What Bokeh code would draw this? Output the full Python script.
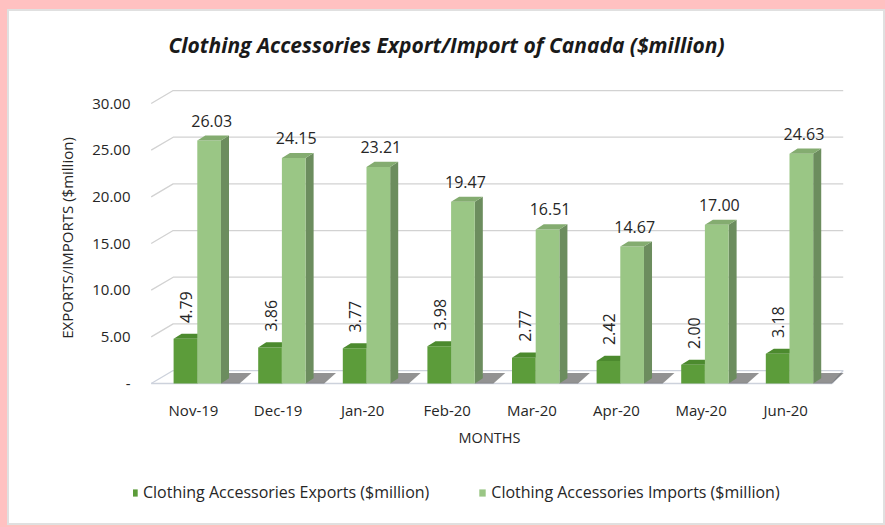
import numpy as np
from bokeh.plotting import figure
from bokeh.layouts import column
from bokeh.models import ColumnDataSource, FixedTicker, Legend, LegendItem, Range1d
from bokeh.embed import file_html
from bokeh.resources import INLINE

# ---------------- data ----------------
months = ["Nov-19", "Dec-19", "Jan-20", "Feb-20", "Mar-20", "Apr-20", "May-20", "Jun-20"]
exports = [4.79, 3.86, 3.77, 3.98, 2.77, 2.42, 2.00, 3.18]
imports = [26.03, 24.15, 23.21, 19.47, 16.51, 14.67, 17.00, 24.63]
y_ticks = [0, 5, 10, 15, 20, 25, 30]
y_tick_labels = ["-", "5.00", "10.00", "15.00", "20.00", "25.00", "30.00"]
title_text = "Clothing Accessories Export/Import of Canada ($million)"
export_name = "Clothing Accessories Exports ($million)"
import_name = "Clothing Accessories Imports ($million)"
x_title = "MONTHS"
y_title = "EXPORTS/IMPORTS ($million)"

# ---------------- style ----------------
FONT = "Open Sans"
PINK = "#ffc1c1"
TXT = "#262626"
EXP_FRONT, EXP_SIDE, EXP_TOP = "#5c9c3a", "#3f7327", "#4c8a2e"
IMP_FRONT, IMP_SIDE, IMP_TOP = "#9ac685", "#6c8d5e", "#84ac70"
GRID = "#d2d2d2"

SHIFT = 0.045            # bars sit slightly right of the category labels
BW = 0.28                # bar width (category units)
BDX, BDY = 0.095, 0.55   # bar depth offsets
WDX, WDY = 0.26, 1.39    # wall depth offsets
FLOOR_X0 = -0.5
FLOOR_X1 = 7.55
BACK_X1 = 7.68
EXP_LABEL_GAP = 1.7      # gap (value units) between export bar and its label

xc = np.arange(len(months), dtype=float)
exp = np.array(exports)
imp = np.array(imports)

W = 874
H0, H1, H2 = 60, 389, 63
BL, BR = 124, 38


def blank(height, top):
    f = figure(width=W, height=height, output_backend="svg", toolbar_location=None,
               x_range=Range1d(0, 1), y_range=Range1d(0, 1),
               min_border_left=BL, min_border_right=BR,
               min_border_top=top, min_border_bottom=0)
    f.axis.visible = False
    f.grid.visible = False
    f.outline_line_color = None
    f.background_fill_color = "white"
    f.border_fill_color = "white"
    return f

# ---------- title header ----------
h = blank(H0, 48)
h.title.text = title_text
h.title.text_font = FONT
h.title.text_font_size = "21px"
h.title.text_font_style = "bold italic"
h.title.text_color = "#1a1a1a"
h.title.align = "left"
h.title.vertical_align = "middle"
h.title.offset = 35
h.title.standoff = 0
h.scatter(x=[-10.0], y=[-10.0], size=1, alpha=0)

# ---------- main chart ----------
p = figure(width=W, height=H1, output_backend="svg", toolbar_location=None,
           x_range=Range1d(-0.709, 7.707), y_range=Range1d(-0.75, 31.93),
           min_border_left=BL, min_border_right=BR, min_border_top=14,
           min_border_bottom=70)
p.background_fill_color = "white"
p.border_fill_color = "white"
p.outline_line_color = None
p.xgrid.visible = False
p.ygrid.visible = False

# 3D gridlines / walls
gx, gy = [], []
for v in y_ticks:
    if v == 0:
        continue
    gx.append([FLOOR_X0, FLOOR_X0 + WDX, BACK_X1])
    gy.append([v, v + WDY, v + WDY])
p.multi_line(gx, gy, line_color=GRID, line_width=1.3)
# floor
p.multi_line([[FLOOR_X0, FLOOR_X1], [FLOOR_X0 + WDX, BACK_X1],
              [FLOOR_X0, FLOOR_X0 + WDX], [FLOOR_X1, BACK_X1]],
             [[0, 0], [WDY, WDY], [0, WDY], [0, WDY]],
             line_color="#cdd2dc", line_width=1.3)

# bar shadows on floor
sh_x, sh_y = [], []
for c in xc + SHIFT:
    x1 = c + BW
    sh_x.append([x1, x1 + BDX, x1 + 0.36, x1 + 0.22])
    sh_y.append([0, WDY * 0.8, WDY * 0.8, 0])
p.patches(sh_x, sh_y, fill_color="#4a4a4a", fill_alpha=0.6, line_color=None)


def bar3d(x0, vals, front, side, top):
    x1 = x0 + BW
    src = ColumnDataSource(dict(x=x0 + BW / 2, top=vals))
    sxs = [[a, a, a + BDX, a + BDX] for a in x1]
    sys_ = [[0, v, v + BDY, BDY] for v in vals]
    p.patches(sxs, sys_, fill_color=side, line_color=None)
    p.vbar(x="x", top="top", bottom=0, width=BW, source=src,
           fill_color=front, line_color=None)
    txs = [[a, b, b + BDX, a + BDX] for a, b in zip(x0, x1)]
    tys = [[v, v, v + BDY, v + BDY] for v in vals]
    p.patches(txs, tys, fill_color=top, line_color=None)

bar3d(xc + SHIFT - BW, exp, EXP_FRONT, EXP_SIDE, EXP_TOP)
bar3d(xc + SHIFT, imp, IMP_FRONT, IMP_SIDE, IMP_TOP)

# value labels
p.text(x=xc + SHIFT + BW / 2 + 0.03, y=imp, text=[f"{v:.2f}" for v in imp],
       text_font={"value": FONT}, text_font_size="16px",
       text_color=TXT, text_align="center", text_baseline="middle",
       y_offset=-20)
p.text(x=xc + SHIFT - BW / 2 + 0.01, y=exp + EXP_LABEL_GAP,
       text=[f"{v:.2f}" for v in exp],
       text_font={"value": FONT}, text_font_size="16px", angle=np.pi / 2,
       text_color=TXT, text_align="left", text_baseline="middle")

# axes
p.xaxis.ticker = FixedTicker(ticks=list(xc))
p.xaxis.major_label_overrides = {i: m for i, m in enumerate(months)}
p.yaxis.ticker = FixedTicker(ticks=y_ticks)
p.yaxis.major_label_overrides = {v: l for v, l in zip(y_ticks, y_tick_labels)}

for ax in (p.xaxis, p.yaxis):
    ax.axis_line_color = None
    ax.major_tick_line_color = None
    ax.minor_tick_line_color = None
    ax.major_tick_in = 0
    ax.major_tick_out = 0
    ax.minor_tick_in = 0
    ax.minor_tick_out = 0
    ax.major_label_text_font = FONT
    ax.major_label_text_font_size = "15px"
    ax.major_label_text_color = TXT
    ax.axis_label_text_font = FONT
    ax.axis_label_text_font_style = "normal"
    ax.axis_label_text_color = TXT

p.xaxis.axis_label_text_font_size = "14.5px"
p.yaxis.axis_label_text_font_size = "15px"
p.xaxis.major_label_standoff = 9
p.xaxis.axis_label = x_title
p.xaxis.axis_label_standoff = 5
p.yaxis.major_label_standoff = 3
p.yaxis.axis_label = y_title
p.yaxis.axis_label_standoff = 12

# ---------- legend figure ----------
q = figure(width=W, height=H2, output_backend="svg", toolbar_location=None,
           x_range=Range1d(0, 1), y_range=Range1d(0, 1),
           min_border=0, min_border_left=0, min_border_right=0,
           min_border_top=0, min_border_bottom=0)
q.axis.visible = False
q.grid.visible = False
q.outline_line_color = None
q.background_fill_color = "white"
q.border_fill_color = "white"
off = dict(x=[-10.0], top=[-10.0])
le = q.vbar(x="x", top="top", width=0.1, source=ColumnDataSource(off),
            fill_color=EXP_FRONT, line_color=None)
li = q.vbar(x="x", top="top", width=0.1, source=ColumnDataSource(dict(off)),
            fill_color=IMP_FRONT, line_color=None)
legend = Legend(items=[LegendItem(label=export_name, renderers=[le]),
                       LegendItem(label=import_name, renderers=[li])],
                orientation="horizontal", location=(-3, 20),
                label_text_font=FONT, label_text_font_size="16px",
                label_text_color=TXT, glyph_width=8, glyph_height=9,
                spacing=49, margin=0, padding=0, border_line_color=None,
                background_fill_alpha=0, label_standoff=5)
q.add_layout(legend, "center")

layout = column(h, p, q, spacing=0,
                styles={"background-color": "white",
                        "box-shadow": "0 0 0 2px #e0e0e0"})
layout.margin = (11, 2, 4, 9)

html = file_html(layout, INLINE)
html = html.replace("</head>", "<style>html,body{margin:0;padding:0;background:%s;}</style></head>" % PINK, 1)
open("out.html", "w").write(html)
